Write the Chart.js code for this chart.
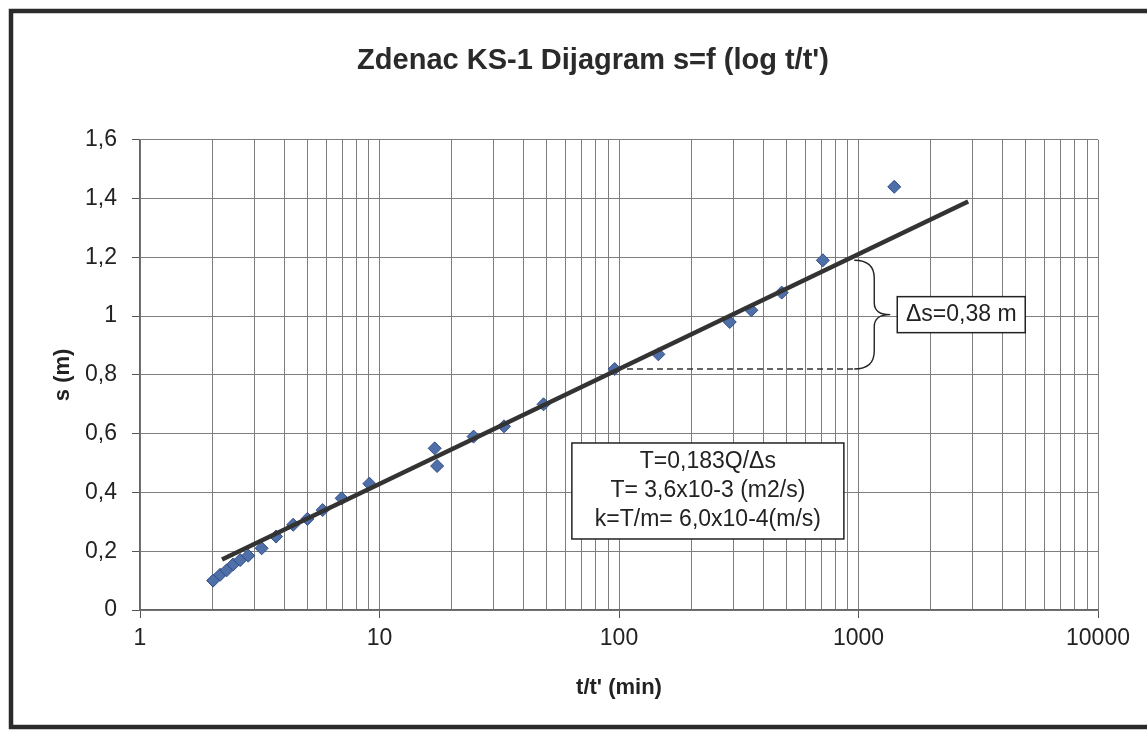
<!DOCTYPE html>
<html>
<head>
<meta charset="utf-8">
<title>Zdenac KS-1</title>
<script src="https://cdn.jsdelivr.net/npm/chart.js@4/dist/chart.umd.min.js"></script>
<style>
  html, body { margin: 0; padding: 0; background: #fff; overflow: hidden; }
  canvas { display: block; }
</style>
</head>
<body>
<canvas id="ks1" width="1186" height="733"></canvas>
<script>
var tRatio = [2.02, 2.16, 2.30, 2.45, 2.62, 2.83, 3.22, 3.70, 4.36, 5.0, 5.79, 6.95, 9.07,
              17.0, 17.4, 24.7, 33.1, 48.4, 95.9, 146, 290, 357, 478, 710, 1410];
var sDown  = [0.10, 0.12, 0.135, 0.155, 0.17, 0.185, 0.21, 0.25, 0.29, 0.31, 0.34, 0.38, 0.43,
              0.55, 0.49, 0.59, 0.625, 0.70, 0.82, 0.87, 0.98, 1.02, 1.08, 1.19, 1.44];

// fitted straight line (ends as drawn)
var trendT = [2.2, 2870];
var trendS = [0.172, 1.39];

// dashed reference at s = 0,82
var dashT = [108, 960];
var dashS = [0.82, 0.82];

// brace between 0,82 and 1,19 near t/t' = 1000
var braceT = 960;
var braceS = [0.82, 1.19];

// axis ticks
var xLabels = [1, 10, 100, 1000, 10000];
var yTicks  = [0, 0.2, 0.4, 0.6, 0.8, 1, 1.2, 1.4, 1.6];

var deltaText = 'Δs=0,38 m';
var noteLines = ['T=0,183Q/Δs', 'T= 3,6x10-3 (m2/s)', 'k=T/m= 6,0x10-4(m/s)'];

var FONT = '"Liberation Sans", Arial, sans-serif';

function pts(xs, ys) {
  return xs.map(function(v, i){ return { x: v, y: ys[i] }; });
}

function drawBox(g, lines, left, top, w, h) {
  g.fillStyle = '#fff';
  g.fillRect(left, top, w, h);
  g.strokeStyle = '#222';
  g.lineWidth = 1.5;
  g.strokeRect(left, top, w, h);
  g.fillStyle = '#222';
  g.font = '23px ' + FONT;
  g.textAlign = 'center';
  g.textBaseline = 'middle';
  var step = 29, y0 = top + h / 2 - step * (lines.length - 1) / 2;
  lines.forEach(function(s, i){ g.fillText(s, left + w / 2, y0 + i * step); });
}

var notes = {
  id: 'notes',
  beforeDraw: function(c) {
    var g = c.ctx;
    g.save(); g.fillStyle = '#fff'; g.fillRect(0, 0, c.width, c.height); g.restore();
  },
  afterDatasetsDraw: function(c) {
    var g = c.ctx, x = c.scales.x, y = c.scales.y;
    var bx = x.getPixelForValue(braceT);
    var yb = y.getPixelForValue(braceS[0]), yt = y.getPixelForValue(braceS[1]);
    var ym = (yt + yb) / 2;
    g.save();
    g.strokeStyle = '#222';
    g.lineWidth = 1.4;
    g.beginPath();
    g.moveTo(bx, yt);
    g.quadraticCurveTo(bx + 20, yt, bx + 20, yt + 18);
    g.lineTo(bx + 20, ym - 12);
    g.quadraticCurveTo(bx + 20, ym, bx + 36, ym);
    g.quadraticCurveTo(bx + 20, ym, bx + 20, ym + 12);
    g.lineTo(bx + 20, yb - 18);
    g.quadraticCurveTo(bx + 20, yb, bx, yb);
    g.stroke();

    drawBox(g, [deltaText], bx + 43, ym - 18, 128, 36);

    // formula box, centred near t/t' = 235, s = 0,405
    var cx = x.getPixelForValue(235), cy = y.getPixelForValue(0.405);
    drawBox(g, noteLines, cx - 136, cy - 48, 272, 96);
    g.restore();
  },
  afterDraw: function(c) {
    var g = c.ctx;
    g.save();
    g.strokeStyle = '#2b2b2b';
    g.lineWidth = 4.5;
    g.strokeRect(11, 11, 1166, 716);
    g.restore();
  }
};

var ctx = document.getElementById('ks1').getContext('2d');
var chart = new Chart(ctx, {
  type: 'scatter',
  data: {
    datasets: [
      {
        type: 'line',
        data: pts(trendT, trendS),
        borderColor: '#333',
        borderWidth: 4.5,
        pointRadius: 0,
        fill: false
      },
      {
        type: 'line',
        data: pts(dashT, dashS),
        borderColor: '#333',
        borderWidth: 1.5,
        borderDash: [6, 4],
        pointRadius: 0,
        fill: false
      },
      {
        data: pts(tRatio, sDown),
        pointStyle: 'rectRot',
        pointRadius: 6.5,
        pointHoverRadius: 6.5,
        backgroundColor: '#4f6fa8',
        borderColor: '#2f4c86',
        borderWidth: 1
      }
    ]
  },
  options: {
    responsive: false,
    animation: false,
    events: [],
    layout: { padding: 0 },
    plugins: {
      legend: { display: false },
      tooltip: { enabled: false },
      title: {
        display: true,
        text: "Zdenac KS-1 Dijagram s=f (log t/t')",
        color: '#2a2a2a',
        font: { family: FONT, size: 29, weight: 'bold' },
        padding: { top: 44, bottom: 61 }
      }
    },
    scales: {
      x: {
        type: 'logarithmic',
        position: 'bottom',
        min: 1,
        max: 10000,
        afterBuildTicks: function(scale) {
          var ticks = [];
          xLabels.forEach(function(v, i){
            ticks.push({ value: v, major: true });
            if (i < xLabels.length - 1) {
              for (var m = 2; m < 10; m++) ticks.push({ value: v * m });
            }
          });
          scale.ticks = ticks;
        },
        afterFit: function(scale) { scale.height = 123; },
        ticks: {
          autoSkip: false,
          maxRotation: 0,
          padding: 7,
          color: '#222',
          font: { family: FONT, size: 23 },
          callback: function(v) { return xLabels.indexOf(v) >= 0 ? String(v) : ''; }
        },
        grid: {
          color: '#7d7d7d',
          lineWidth: 1,
          tickLength: 8,
          tickColor: function(c) {
            return c.tick && xLabels.indexOf(c.tick.value) >= 0 ? '#555' : 'rgba(0,0,0,0)';
          }
        },
        border: { color: '#666', width: 1.5 },
        title: {
          display: true,
          text: "t/t' (min)",
          color: '#222',
          font: { family: FONT, size: 22, weight: 'bold' },
          padding: { top: 0, bottom: 32 }
        }
      },
      y: {
        min: 0,
        max: 1.6,
        afterBuildTicks: function(scale) {
          scale.ticks = yTicks.map(function(v){ return { value: v }; });
        },
        afterFit: function(scale) { scale.width = 140; },
        ticks: {
          padding: 15,
          color: '#222',
          font: { family: FONT, size: 23 },
          callback: function(v) { return String(Math.round(v * 10) / 10).replace('.', ','); }
        },
        grid: { color: '#7d7d7d', lineWidth: 1, tickLength: 8, tickColor: '#555' },
        border: { color: '#666', width: 1.5 },
        title: {
          display: true,
          text: 's (m)',
          color: '#222',
          font: { family: FONT, size: 22, weight: 'bold' },
          padding: { top: 50, bottom: 0 }
        }
      },
      // empty right-hand strip: keeps the plot clear of the frame area on the right
      side: {
        type: 'linear',
        position: 'right',
        ticks: { display: false },
        grid: { display: false },
        border: { display: false },
        afterFit: function(scale) { scale.width = 88; }
      }
    }
  },
  plugins: [notes]
});
</script>
</body>
</html>
